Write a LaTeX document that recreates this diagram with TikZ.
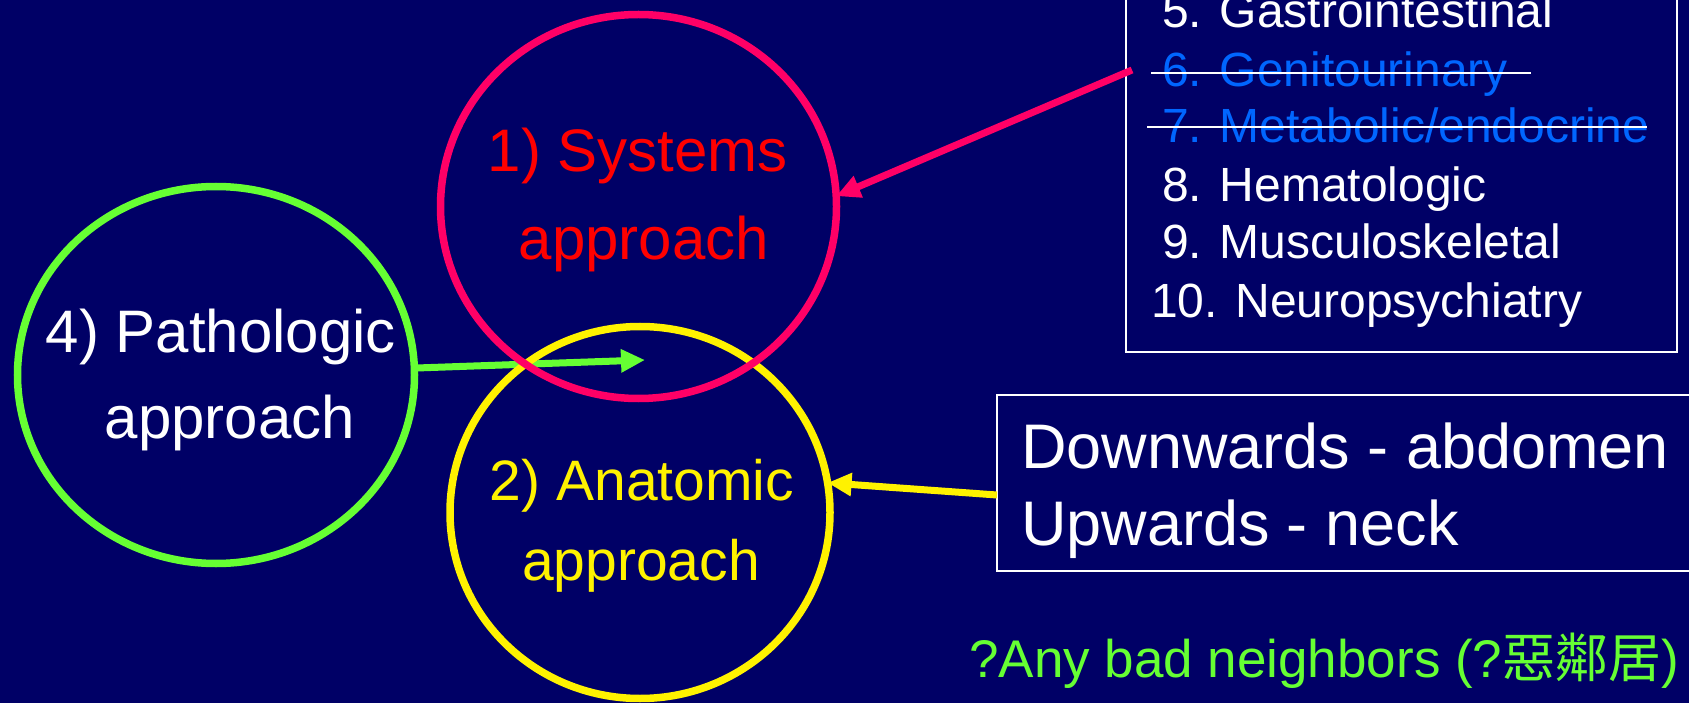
\documentclass[tikz,border=0pt]{standalone}
\usepackage{fontspec}
\setmainfont{Liberation Sans}
\newfontfamily\cjkfont{Noto Sans CJK TC}
\usetikzlibrary{arrows.meta,shapes.geometric}
\definecolor{navy}{RGB}{0,0,102}
\definecolor{hotpink}{RGB}{255,0,102}
\definecolor{lime}{RGB}{102,255,51}
\definecolor{skyblue}{RGB}{0,102,255}
\tikzset{
  ring/.style={ellipse, draw, line width=7.5pt, inner sep=0pt, outer sep=0pt},
  label/.style={inner sep=0pt, outer sep=0pt, anchor=base},
  circletext/.style={label, font=\fontsize{60}{72}\selectfont},
  listline/.style={inner sep=0pt, outer sep=0pt, anchor=base west, text=white,
    font=\fontsize{48}{58}\selectfont},
  boxline/.style={inner sep=0pt, outer sep=0pt, anchor=base west, text=white,
    font=\fontsize{63}{76}\selectfont},
  frame/.style={draw=white, line width=2pt, inner sep=0pt, outer sep=0pt, anchor=north west},
  link/.style={line width=7pt, -{Triangle[length=24pt,width=22pt]}},
}
\begin{document}
\begin{tikzpicture}[x=1pt,y=-1pt]
  \useasboundingbox (0,0) rectangle (1689,703);
  \fill[navy] (0,0) rectangle (1689,703);
  \clip (0,0) rectangle (1689,703);

  % the three approaches
  \node[ring, draw=lime, minimum width=397pt, minimum height=377pt] (path) at (216,375) {};
  \coordinate (gtip) at (645,360);
  \draw[link, lime] (path.2) -- (gtip);
  \node[ring, draw=yellow, minimum width=380pt, minimum height=372pt] (anat) at (640,512.5) {};
  \node[ring, draw=hotpink, minimum width=396pt, minimum height=384pt] (sys) at (638.5,206.5) {};

  \node[circletext, text=red] (sys1) at (638,172) {1) Systems};
  \node[circletext, text=red] (sys2) at (644,260) {approach};
  \node[circletext, text=yellow, font=\fontsize{57}{68}\selectfont] (anat1) at (642,500) {2) Anatomic};
  \node[circletext, text=yellow, font=\fontsize{57}{68}\selectfont] (anat2) at (641,580) {approach};
  \node[circletext, text=white] (path1) at (221,352) {4) Pathologic};
  \node[circletext, text=white] (path2) at (230,438) {approach};

  % list of systems
  \node[frame, minimum width=551pt, minimum height=372pt] (listbox) at (1126,-20) {};
  \node[listline] (l5) at (1162,28) {5. Gastrointestinal};
  \node[listline, text=skyblue] (l6) at (1162,87) {6. Genitourinary};
  \node[listline, text=skyblue] (l7) at (1162,143) {7. Metabolic/endocrine};
  \node[listline] (l8) at (1162,202) {8. Hematologic};
  \node[listline] (l9) at (1162,259) {9. Musculoskeletal};
  \node[listline] (l10) at (1151,317) {10. Neuropsychiatry};
  \coordinate (s6a) at (1151,73);
  \coordinate (s6b) at (1531,73);
  \coordinate (s7a) at (1147,127);
  \coordinate (s7b) at (1647,127);
  \draw[white, line width=2pt] (s6a) -- (s6b);
  \draw[white, line width=2pt] (s7a) -- (s7b);

  % directions box
  \node[frame, minimum width=740pt, minimum height=176pt] (dirbox) at (997,395) {};
  \node[boxline] (d1) at (1021,468) {Downwards - abdomen};
  \node[boxline] (d2) at (1021,545) {Upwards - neck};

  % note
  \node[inner sep=0pt, anchor=base west, text=lime, font=\fontsize{53}{64}\selectfont]
    (note) at (969,677) {?Any bad neighbors (?{\cjkfont 惡鄰居})};

  % connectors
  \coordinate (ptail) at (1132,70);
  \draw[link, hotpink] (ptail) -- (sys.3);
  \coordinate (ytail) at (997,495);
  \draw[link, yellow] (ytail) -- (anat.9);
\end{tikzpicture}
\end{document}
